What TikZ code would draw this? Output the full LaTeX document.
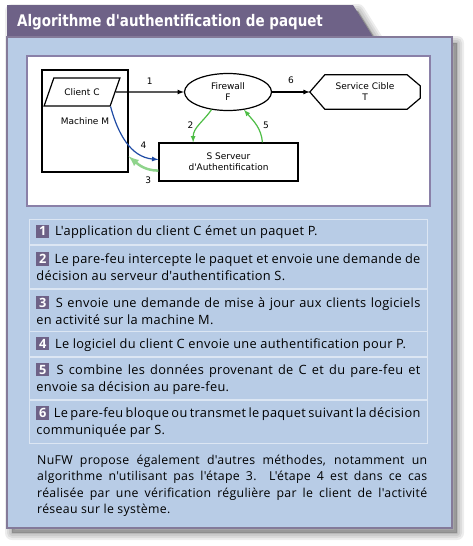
\documentclass[tikz,border=0pt]{standalone}
\usepackage{fontspec}
\usepackage{graphicx}
\setmainfont{Open Sans}
\newfontfamily\itemfont[LetterSpace=2.5]{Open Sans}
\newfontfamily\diagfont{DejaVu Sans}
\newfontfamily\titlefont{DejaVu Sans Condensed}
\usetikzlibrary{positioning,shapes.geometric}
\definecolor{panelblue}{HTML}{B8CCE6}
\definecolor{titleviolet}{HTML}{6E6287}
\definecolor{boxviolet}{HTML}{8A80A8}
\definecolor{itemline}{HTML}{DCE6F3}
\definecolor{stepgreen}{HTML}{4DBD45}
\definecolor{lightgreen}{HTML}{8FD48C}
\definecolor{clientblue}{HTML}{1F4BA5}
\newcommand{\stepnum}[1]{{\setlength{\fboxsep}{2pt}\colorbox{titleviolet}{\textcolor{white}{\bfseries\makebox[9pt]{#1}}}}\hspace{2pt}}
\hyphenpenalty=10000
\tikzset{
  graphnode/.style={draw,line width=1.2pt,font=\diagfont\fontsize{9}{11}\selectfont,align=center},
  arr/.style={->,>=latex,line width=1.2pt},
  steplabel/.style={font=\diagfont\fontsize{9}{11}\selectfont},
  itembox/.style={draw=itemline,line width=0.8pt,text width=384pt,inner xsep=7pt,inner ysep=0pt,minimum height=#1,align=justify,font=\itemfont\fontsize{12.8}{17}\selectfont},
  itembox/.default=25pt,
}
\begin{document}
\begin{tikzpicture}[x=1pt,y=-1pt]
\useasboundingbox (0,0) rectangle (472,546);
% ombre
\foreach \w in {2,6,10,14}
  \draw[black,opacity=0.07,line width=\w pt,line join=round] (12,11)--(358,11)--(378,43)--(457,43)--(457,533)--(12,533)--cycle;
\fill[black,opacity=0.25] (12,11)--(358,11)--(378,43)--(457,43)--(457,533)--(12,533)--cycle;
% onglet du titre
\fill[titleviolet] (7,5)--(353,5)--(373,37)--(7,37)--cycle;
\node[anchor=base west,text=white,inner sep=0pt,font=\titlefont\bfseries\fontsize{16}{18}\selectfont] (titre) at (17,27) {\scalebox{0.935}[1]{Algorithme d'authentification de paquet}};
% cadre
\draw[fill=panelblue,draw=titleviolet!85,line width=1.2pt] (7,37) rectangle (452,528);
\draw[fill=white,draw=boxviolet,line width=1.2pt] (27,56) rectangle (430,206);
% schema
\node[graphnode,minimum width=86pt,minimum height=102pt] (mach) at (85,121) {Machine M};
\node[graphnode,trapezium,trapezium left angle=62,trapezium right angle=118,trapezium stretches=true,minimum width=76pt,minimum height=28pt,fill=white] (client) at (82,92) {Client C};
\node[graphnode,ellipse,minimum width=87pt,minimum height=37pt] (fw) at (228,92) {Firewall\\F};
\node[steplabel,align=center,minimum width=110pt,minimum height=34pt] (svc) at (365,92) {Service Cible\\T};
\draw[line width=1.2pt] (svc.west) -- ([xshift=15pt]svc.north west) -- ([xshift=-13pt]svc.north east) -- ([yshift=-11pt]svc.north east) -- ([yshift=11pt]svc.south east) -- ([xshift=-13pt]svc.south east) -- ([xshift=15pt]svc.south west) -- cycle;
\node[graphnode,minimum width=139pt,minimum height=38pt] (srv) at (228.5,162) {S Serveur\\d'Authentification};
\draw[arr] (client.east) -- (fw.west) node[steplabel,midway,above=4pt] {1};
\draw[arr] (fw.east) -- (svc.west) node[steplabel,midway,above=4pt] {6};
\draw[arr,stepgreen] (fw.227) to[out=235,in=90] node[steplabel,black,midway,left=2pt] {2} (srv.151);
\draw[arr,stepgreen] (srv.30) to[out=95,in=-50] node[steplabel,black,midway,right=3pt] {5} (fw.312);
\draw[arr,clientblue] (client.bottom right corner) to[out=-75,in=175] node[steplabel,black,pos=0.8,above=3pt] {4} (srv.178);
\draw[arr,lightgreen,line width=2.5pt] (srv.187) to[out=180,in=-40] node[steplabel,black,pos=0.3,below=3pt] {3} (mach.321);
% etapes
\node[itembox,anchor=north west] (e1) at (29,219) {\stepnum{1} L'application du client C émet un paquet P.};
\node[itembox=43pt,below=0pt of e1] (e2) {\stepnum{2} Le pare-feu intercepte le paquet et envoie une demande de\linebreak décision au serveur d'authentification S.};
\node[itembox=42pt,below=0pt of e2] (e3) {\stepnum{3} S envoie une demande de mise à jour aux clients logiciels\linebreak en activité sur la machine M.};
\node[itembox,below=0pt of e3] (e4) {\stepnum{4} Le logiciel du client C envoie une authentification pour P.};
\node[itembox=42pt,below=0pt of e4] (e5) {\stepnum{5} S combine les données provenant de C et du pare-feu et\linebreak envoie sa décision au pare-feu.};
\node[itembox=43pt,below=0pt of e5] (e6) {\stepnum{6} Le pare-feu bloque ou transmet le paquet suivant la décision\linebreak communiquée par S.};
\node[anchor=north west,text width=390pt,inner sep=0pt,align=justify,font=\itemfont\fontsize{12.3}{16.3}\selectfont] (note) at (37,455) {NuFW propose également d'autres méthodes, notamment un\linebreak algorithme n'utilisant pas l'étape 3. L'étape 4 est dans ce cas\linebreak réalisée par une vérification régulière par le client de l'activité\linebreak réseau sur le système.};
\end{tikzpicture}
\end{document}
